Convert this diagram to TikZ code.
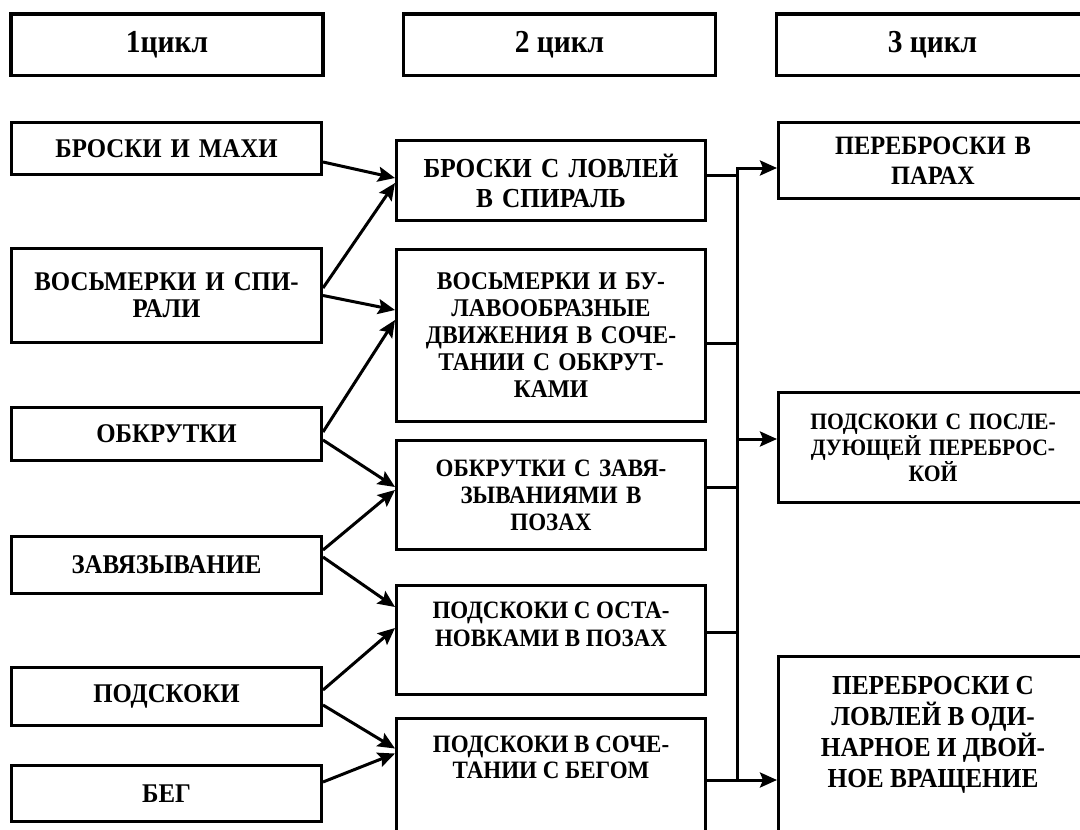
\documentclass[tikz,border=0pt]{standalone}
\usepackage{fontspec}
\setmainfont[FakeStretch=0.92]{Liberation Serif}
\usetikzlibrary{arrows.meta}

\tikzset{
  cell/.style={draw, line width=3pt, inner sep=0pt, align=center},
  lcell/.style={cell, text width=310pt, font=\bfseries\fontsize{27}{27}\selectfont},
  head/.style={draw, line width=3.5pt, inner sep=0pt, minimum width=312pt, minimum height=61.5pt, font=\bfseries\fontsize{32}{34}\selectfont},
  link/.style={line width=3pt, -{Stealth[length=17pt,width=15pt,inset=3pt]}},
  wire/.style={line width=3pt}
}
\newcommand{\topcell}[3]{\parbox[c][#1][t]{309pt}{\centering\vspace*{#2}#3\par}}

\begin{document}
\begin{tikzpicture}[x=1pt, y=-1pt]
    \useasboundingbox (0,0) rectangle (1080,830);
    \clip (0,0) rectangle (1080,830);

    % cycle headers
    \node[head] (h1) at (167,44.5) {1цикл};
    \node[head] (h2) at (559.5,44.5) {2 цикл};
    \node[head] (h3) at (932.5,44.5) {3 цикл};

    % 1 cycle
    \node[lcell, minimum height=52pt] (l1) at (166.5,148.5) {БРОСКИ И МАХИ};
    \node[lcell, minimum height=94pt] (l2) at (166.5,295.5) {ВОСЬМЕРКИ И СПИ-\\РАЛИ};
    \node[lcell, minimum height=53pt] (l3) at (166.5,434) {ОБКРУТКИ};
    \node[lcell, minimum height=57pt] (l4) at (166.5,565) {ЗАВЯЗЫВАНИЕ};
    \node[lcell, minimum height=58pt] (l5) at (166.5,696.5) {ПОДСКОКИ};
    \node[lcell, minimum height=56pt] (l6) at (166.5,793.5) {БЕГ};

    % 2 cycle
    \node[cell, text width=309pt, minimum height=80pt, font=\bfseries\fontsize{27.5}{30}\selectfont] (m1) at (551,180.5) {БРОСКИ С ЛОВЛЕЙ\\В СПИРАЛЬ};
    \node[cell, text width=309pt, minimum height=172pt, font=\bfseries\fontsize{25.5}{27}\selectfont] (m2) at (551,335.5) {ВОСЬМЕРКИ И БУ-\\ЛАВООБРАЗНЫЕ\\ДВИЖЕНИЯ В СОЧЕ-\\ТАНИИ С ОБКРУТ-\\КАМИ};
    \node[cell, text width=309pt, minimum height=109pt, font=\bfseries\fontsize{25}{27}\selectfont] (m3) at (551,495) {ОБКРУТКИ С ЗАВЯ-\\ЗЫВАНИЯМИ В\\ПОЗАХ};
    \node[cell, font=\bfseries\fontsize{25}{28}\selectfont] (m4) at (551,640) {\topcell{109pt}{16pt}{ПОДСКОКИ С ОСТА-\\НОВКАМИ В ПОЗАХ}};
    \node[cell, font=\bfseries\fontsize{25}{26}\selectfont] (m5) at (551,788.5) {\topcell{140pt}{17pt}{ПОДСКОКИ В СОЧЕ-\\ТАНИИ С БЕГОМ}};

    % 3 cycle
    \node[cell, text width=309pt, minimum height=76pt, font=\bfseries\fontsize{26.5}{30.5}\selectfont] (r1) at (933,160.5) {ПЕРЕБРОСКИ В\\ПАРАХ};
    \node[cell, text width=309pt, minimum height=110pt, font=\bfseries\fontsize{23.5}{24.5}\selectfont] (r2) at (933,447.5) {ПОДСКОКИ С ПОСЛЕ-\\ДУЮЩЕЙ ПЕРЕБРОС-\\КОЙ};
    \node[cell, font=\bfseries\fontsize{27.5}{31}\selectfont] (r3) at (933,771.5) {\topcell{230pt}{20pt}{ПЕРЕБРОСКИ С\\ЛОВЛЕЙ В ОДИ-\\НАРНОЕ И ДВОЙ-\\НОЕ ВРАЩЕНИЕ}};

    % 1 cycle -> 2 cycle
    \draw[link] ([yshift=-13.5pt]l1.east) -- ([yshift=2.5pt]m1.west);
    \draw[link] ([yshift=7.5pt]l2.east) -- ([yshift=-2.5pt]m1.west);
    \draw[link] (l2.east) -- ([yshift=25.5pt]m2.west);
    \draw[link] ([yshift=2pt]l3.east) -- ([yshift=15.5pt]m2.west);
    \draw[link] ([yshift=-6pt]l3.east) -- ([yshift=8pt]m3.west);
    \draw[link] ([yshift=15pt]l4.east) -- ([yshift=5pt]m3.west);
    \draw[link] ([yshift=8pt]l4.east) -- ([yshift=33pt]m4.west);
    \draw[link] ([yshift=6.5pt]l5.east) -- ([yshift=12pt]m4.west);
    \draw[link] ([yshift=-8.5pt]l5.east) -- ([yshift=40pt]m5.west);
    \draw[link] ([yshift=11.5pt]l6.east) -- ([yshift=35pt]m5.west);

    % 2 cycle -> 3 cycle
    \coordinate (j2) at (737,439);
    \coordinate (j5) at (737,780);
    \draw[wire] ([yshift=5.5pt]m1.east) -- ++(31.5,0);
    \draw[wire] ([yshift=-7.5pt]m2.east) -- ++(31.5,0);
    \draw[wire] ([yshift=8pt]m3.east) -- ++(31.5,0);
    \draw[wire] ([yshift=8pt]m4.east) -- ++(31.5,0);
    \draw[wire] ([yshift=8.5pt]m5.east) -- (j5);
    \draw[link] (j5) |- ([yshift=-7.5pt]r1.west);
    \draw[link] (j2) -- ([yshift=8.5pt]r2.west);
    \draw[link] (j5) -- ([yshift=-8.5pt]r3.west);
\end{tikzpicture}
\end{document}
